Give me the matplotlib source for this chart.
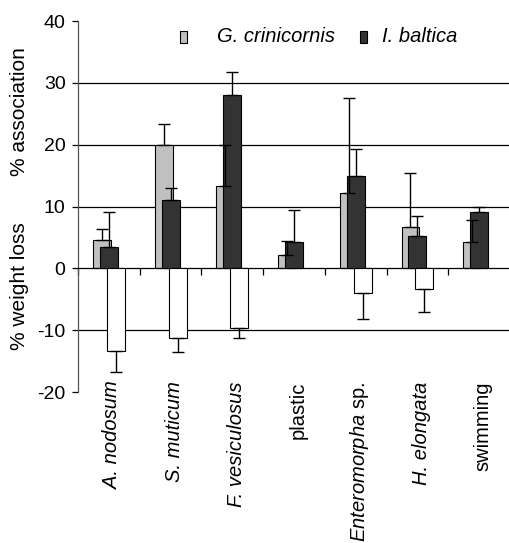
import matplotlib
matplotlib.use('Agg')
import matplotlib.pyplot as plt
import numpy as np
from matplotlib.patches import Rectangle

plt.rcParams['font.family'] = 'Liberation Sans'
plt.rcParams['mathtext.fontset'] = 'custom'
plt.rcParams['mathtext.it'] = 'Liberation Sans:italic'
plt.rcParams['mathtext.rm'] = 'Liberation Sans'
plt.rcParams['axes.unicode_minus'] = False

# substrates on the x axis
labels = ['A. nodosum', 'S. muticum', 'F. vesiculosus', 'plastic',
          r'$\mathit{Enteromorpha}$ sp.', 'H. elongata', 'swimming']
label_italic = [True, True, True, False, False, True, False]

# % association, G. crinicornis
gc_assoc = [4.6, 20.0, 13.3, 2.2, 12.2, 6.7, 4.3]
gc_err = [1.8, 3.4, 6.7, 2.2, 15.4, 8.8, 3.5]
# % association, I. baltica
ib_assoc = [3.4, 11.0, 28.0, 4.3, 15.0, 5.2, 9.1]
ib_err = [5.7, 2.0, 3.8, 5.1, 4.4, 3.3, 0.9]
# % weight loss (plotted negative)
wl = [-13.3, -11.2, -9.7, 0, -4.0, -3.4, 0]
wl_err = [3.4, 2.4, 1.5, 0, 4.2, 3.6, 0]

legend_names = ['G. crinicornis', 'I. baltica']
gray = '#c0c0c0'
dark = '#333333'

x = np.arange(len(labels))
w = 0.29
off = 0.113

fig = plt.figure(figsize=(5.10, 5.43), dpi=100)
ax = fig.add_axes([0.153, 0.278, 0.847, 0.683])

# gridlines
for g in [-10, 10, 20, 30]:
    ax.axhline(g, color='black', lw=0.9, zorder=1)

ax.bar(x - off, gc_assoc, w, color=gray, edgecolor='black', lw=0.8, zorder=2)
ax.bar(x, ib_assoc, w, color=dark, edgecolor='black', lw=0.8, zorder=3)
has_wl = [v != 0 for v in wl]
ax.bar(x[has_wl] + off, np.array(wl)[has_wl], w, color='white', edgecolor='black',
       lw=0.8, zorder=4)

zeros = np.zeros(len(x))
ekw = dict(fmt='none', ecolor='black', elinewidth=1, capsize=4.5, capthick=1, zorder=5)
ax.errorbar(x - off, gc_assoc, yerr=[zeros, gc_err], **ekw)
ax.errorbar(x, ib_assoc, yerr=[zeros, ib_err], **ekw)
ax.errorbar(x[has_wl] + off, np.array(wl)[has_wl],
            yerr=[np.array(wl_err)[has_wl], zeros[has_wl]], **ekw)

ax.set_xlim(-0.5, 6.5)
ax.set_ylim(-20, 40)
ax.spines['top'].set_visible(False)
ax.spines['right'].set_visible(False)
ax.spines['bottom'].set_position(('data', 0))
ax.spines['bottom'].set_linewidth(0.9)
ax.spines['left'].set_linewidth(0.9)
ax.spines['left'].set_color('#555555')
ax.set_xticks(np.arange(-0.5, 7, 1))
ax.set_xticklabels([])
ax.tick_params(axis='x', direction='out', length=5, width=0.9)
ax.set_yticks([-20, -10, 0, 10, 20, 30, 40])
ax.tick_params(axis='y', direction='out', length=4, width=0.9, labelsize=14, pad=5)

for xi, lab, it in zip(x, labels, label_italic):
    ax.text(xi + 0.06, -18.3, lab, rotation=90, ha='center', va='top', fontsize=14.5,
            style='italic' if it else 'normal')

fig.text(0.039, 0.794, '% association', rotation=90, ha='center', va='center', fontsize=15)
fig.text(0.039, 0.473, '% weight loss', rotation=90, ha='center', va='center', fontsize=15)

# legend drawn by hand to match the spacing of the original
for x0, name, col, tx in [(0.236, legend_names[0], gray, 0.322),
                          (0.653, legend_names[1], dark, 0.704)]:
    ax.add_patch(Rectangle((x0, 0.940), 0.017, 0.034, transform=ax.transAxes,
                           facecolor=col, edgecolor='black', lw=0.8, clip_on=False))
    ax.text(tx, 0.958, name, transform=ax.transAxes, ha='left', va='center',
            fontsize=14.5, style='italic')

fig.savefig('out.png', dpi=100)
